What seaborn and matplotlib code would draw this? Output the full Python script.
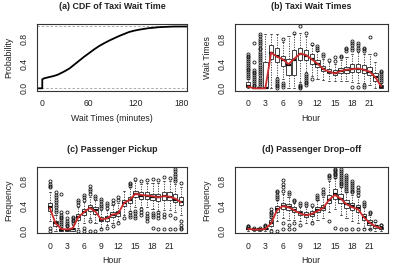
import matplotlib
matplotlib.use("Agg")
import matplotlib.pyplot as plt
import seaborn as sns
import numpy as np

sns.set_style("white")
plt.rcParams['font.family'] = ['Liberation Sans', 'DejaVu Sans']
plt.rcParams['font.size'] = 6.2

hours = list(range(24))

# (a) CDF of taxi wait time
cdf_minutes = [-7, 0, 0, 2, 5, 10, 15, 20, 28, 35, 41, 47, 54, 60, 67, 73, 80, 87, 93,
               100, 106, 112, 118, 125, 131, 137, 144, 150, 162, 170, 187]
cdf_prob = [0, 0, 0.145, 0.16, 0.17, 0.185, 0.2, 0.22, 0.27, 0.32, 0.38, 0.44, 0.51, 0.565, 0.63,
            0.68, 0.73, 0.775, 0.81, 0.85, 0.88, 0.91, 0.93, 0.948, 0.96, 0.972, 0.98, 0.988,
            0.995, 0.999, 1.0]

# (b) taxi wait times per hour
wait_q1 = [0.02, 0, 0, 0, 0.47, 0.42, 0.36, 0.22, 0.22, 0.46, 0.46, 0.40, 0.35, 0.28, 0.24, 0.21, 0.24, 0.25, 0.27, 0.26, 0.25, 0.22, 0.12, 0.0]
wait_med = [0.04, 0, 0, 0, 0.57, 0.52, 0.45, 0.37, 0.45, 0.56, 0.53, 0.47, 0.40, 0.31, 0.27, 0.24, 0.28, 0.29, 0.31, 0.31, 0.30, 0.27, 0.19, 0.02]
wait_q3 = [0.11, 0, 0, 0.43, 0.70, 0.65, 0.52, 0.48, 0.62, 0.65, 0.62, 0.56, 0.45, 0.36, 0.31, 0.29, 0.33, 0.35, 0.40, 0.39, 0.38, 0.35, 0.25, 0.05]
wait_lo = [0, 0, 0, 0, 0, 0.18, 0.15, 0, 0, 0.10, 0.27, 0.20, 0.15, 0.13, 0.12, 0.12, 0.12, 0.12, 0.10, 0.08, 0.08, 0.06, 0, 0]
wait_hi = [0.15, 0, 0, 0.88, 0.88, 0.88, 0.75, 0.85, 0.88, 0.90, 0.85, 0.70, 0.60, 0.48, 0.42, 0.40, 0.45, 0.50, 0.55, 0.58, 0.55, 0.55, 0.42, 0.08]
wait_mean = [0.03, 0, 0, 0, 0.58, 0.51, 0.47, 0.39, 0.48, 0.56, 0.54, 0.47, 0.40, 0.31, 0.27, 0.24, 0.28, 0.30, 0.31, 0.32, 0.30, 0.27, 0.18, 0.03]
wait_out = [
    [0.17, 0.2, 0.23, 0.26, 0.29, 0.32, 0.35, 0.38, 0.41, 0.44, 0.47, 0.5, 0.53, 0.55],
    [0.03, 0.06, 0.09, 0.12, 0.15, 0.18, 0.21, 0.24, 0.27, 0.3, 0.42, 0.73],
    [0.03, 0.07, 0.1, 0.14, 0.17, 0.21, 0.24, 0.28, 0.31, 0.35, 0.38, 0.42, 0.45, 0.49, 0.52,
     0.56, 0.59, 0.63, 0.66, 0.7, 0.73, 0.77, 0.8, 0.84, 0.88],
    [], [],
    [0.0, 0.03, 0.06, 0.09, 0.12, 0.15],
    [0.02, 0.05, 0.08, 0.8],
    [],
    [0.9],
    [0.0, 0.02, 0.04, 0.06, 1.0],
    [0.05, 0.08, 0.11, 0.14, 0.17, 0.2, 0.23, 0.9],
    [0.15, 0.72],
    [0.62, 0.65, 0.68],
    [0.52, 0.55],
    [0.45],
    [0.44, 0.5],
    [0.5, 0.53],
    [0.6, 0.63, 0.66],
    [0.02, 0.62, 0.66, 0.7, 0.74, 0.77],
    [0.02, 0.62, 0.66, 0.7, 0.74],
    [0.02, 0.05, 0.6, 0.63, 0.66],
    [0.83],
    [0.55],
    [0.11, 0.14, 0.17, 0.2, 0.23, 0.26, 0.28],
]

# (c) passenger pickup per hour
pick_q1 = [0.32, 0.08, 0.0, 0.0, 0.0, 0.18, 0.26, 0.32, 0.27, 0.15, 0.16, 0.22, 0.24, 0.40, 0.45, 0.54, 0.52, 0.52, 0.50, 0.48, 0.50, 0.50, 0.46, 0.42]
pick_med = [0.38, 0.12, 0.01, 0.01, 0.02, 0.22, 0.30, 0.37, 0.33, 0.18, 0.20, 0.26, 0.28, 0.45, 0.50, 0.60, 0.57, 0.57, 0.55, 0.54, 0.56, 0.55, 0.50, 0.47]
pick_q3 = [0.45, 0.16, 0.03, 0.03, 0.05, 0.27, 0.35, 0.42, 0.38, 0.23, 0.24, 0.30, 0.32, 0.50, 0.55, 0.65, 0.62, 0.62, 0.60, 0.60, 0.62, 0.62, 0.60, 0.55]
pick_lo = [0.15, 0.0, 0, 0, 0, 0.05, 0.13, 0.20, 0.12, 0.05, 0.10, 0.12, 0.15, 0.25, 0.32, 0.38, 0.38, 0.38, 0.35, 0.32, 0.33, 0.33, 0.30, 0.25]
pick_hi = [0.62, 0.25, 0.06, 0.06, 0.10, 0.38, 0.47, 0.55, 0.50, 0.33, 0.33, 0.42, 0.45, 0.65, 0.70, 0.80, 0.75, 0.78, 0.78, 0.78, 0.80, 0.80, 0.75, 0.70]
pick_mean = [0.37, 0.12, 0.03, 0.02, 0.04, 0.22, 0.30, 0.37, 0.31, 0.18, 0.20, 0.26, 0.28, 0.45, 0.50, 0.60, 0.58, 0.57, 0.56, 0.54, 0.56, 0.55, 0.52, 0.46]
pick_out = [
    [0.0, 0.05, 0.7, 0.73, 0.76, 0.8],
    [0.3, 0.34, 0.38, 0.42, 0.46, 0.5, 0.54, 0.58, 0.62],
    [0.08, 0.11, 0.14, 0.17, 0.2, 0.23, 0.26, 0.3, 0.6],
    [0.07, 0.1, 0.13, 0.16, 0.2, 0.3],
    [0.12, 0.15, 0.18, 0.21, 0.23],
    [0.0, 0.42, 0.46, 0.5],
    [0.0, 0.05, 0.5, 0.54, 0.58],
    [0.0, 0.15, 0.6, 0.64, 0.68, 0.72],
    [0.0, 0.53, 0.57],
    [0.02, 0.36, 0.4, 0.44, 0.48, 0.52],
    [0.05, 0.37, 0.41, 0.45],
    [0.08, 0.45, 0.5],
    [0.12, 0.5, 0.55],
    [0.2],
    [0.22, 0.26, 0.3, 0.72, 0.75, 0.78],
    [0.2, 0.24, 0.28, 0.32, 0.83],
    [0.25, 0.3, 0.35, 0.8],
    [0.15, 0.2, 0.24, 0.28, 0.82],
    [0.05, 0.22, 0.25, 0.28, 0.84],
    [0.02, 0.2, 0.25, 0.3, 0.82],
    [0.02, 0.23, 0.27, 0.87],
    [0.02, 0.25, 0.85],
    [0.02, 0.2, 0.8, 0.84, 0.88, 0.92, 0.96, 1.0],
    [0.02, 0.05, 0.1, 0.15, 0.78],
]

# (d) passenger drop-off per hour
drop_q1 = [0.02, 0.01, 0.01, 0.02, 0.08, 0.30, 0.35, 0.33, 0.30, 0.25, 0.22, 0.24, 0.30, 0.33, 0.45, 0.52, 0.45, 0.37, 0.33, 0.30, 0.18, 0.10, 0.05, 0.02]
drop_med = [0.03, 0.02, 0.02, 0.03, 0.12, 0.35, 0.40, 0.38, 0.34, 0.28, 0.25, 0.27, 0.33, 0.37, 0.50, 0.60, 0.52, 0.43, 0.40, 0.36, 0.22, 0.13, 0.07, 0.04]
drop_q3 = [0.05, 0.03, 0.03, 0.05, 0.17, 0.40, 0.45, 0.43, 0.38, 0.32, 0.30, 0.32, 0.38, 0.42, 0.58, 0.67, 0.60, 0.50, 0.45, 0.42, 0.27, 0.17, 0.10, 0.06]
drop_lo = [0, 0, 0, 0, 0.02, 0.15, 0.20, 0.18, 0.18, 0.15, 0.12, 0.15, 0.18, 0.20, 0.30, 0.35, 0.25, 0.20, 0.15, 0.12, 0.05, 0.02, 0, 0]
drop_hi = [0.06, 0.04, 0.04, 0.06, 0.20, 0.50, 0.60, 0.55, 0.45, 0.38, 0.38, 0.38, 0.50, 0.55, 0.80, 0.85, 0.70, 0.62, 0.58, 0.55, 0.38, 0.25, 0.14, 0.08]
drop_mean = [0.03, 0.02, 0.02, 0.03, 0.12, 0.33, 0.40, 0.38, 0.33, 0.28, 0.25, 0.27, 0.32, 0.37, 0.50, 0.58, 0.52, 0.43, 0.38, 0.35, 0.22, 0.13, 0.07, 0.04]
drop_out = [
    [0.06, 0.07, 0.08],
    [0.05],
    [0.05],
    [0.07, 0.08, 0.1],
    [0.0, 0.22, 0.25, 0.28, 0.31, 0.35],
    [0.0, 0.52, 0.55, 0.58, 0.62, 0.65],
    [0.02, 0.12, 0.65, 0.7, 0.76, 0.82],
    [0.02, 0.1, 0.6, 0.63],
    [0.03, 0.12, 0.48, 0.5],
    [0.1, 0.42, 0.45],
    [0.42, 0.45],
    [0.12, 0.42],
    [0.52, 0.55, 0.58],
    [0.6, 0.63, 0.67],
    [0.15, 0.85, 0.88, 0.9],
    [0.05, 0.87, 0.9, 0.92, 0.94, 0.96, 0.98, 1.0],
    [0.02, 0.72, 0.75, 0.78, 0.81, 0.84, 0.87, 0.9, 0.93, 0.96, 1.0],
    [0.02, 0.65, 0.68, 0.71, 0.74, 0.77, 0.8, 0.84, 0.87, 0.9],
    [0.02, 0.62, 0.65, 0.68, 0.71, 0.74, 0.77, 0.8],
    [0.02, 0.58, 0.62, 0.66, 0.7],
    [0.02, 0.4, 0.43, 0.47],
    [0.02, 0.28, 0.3],
    [0.16],
    [0.09, 0.1],
]

TXT = '#222222'
W, H = 394, 267
fig = plt.figure(figsize=(W / 100, H / 100), dpi=100)


def make_ax(l, t, r, b):
    return fig.add_axes([l / W, 1 - b / H, (r - l) / W, (b - t) / H])


def style(ax, title, xlabel, ylabel, wpx, hpx):
    for s in ax.spines.values():
        s.set_color('#333333')
        s.set_linewidth(0.8)
    ax.tick_params(direction='out', length=3, width=0.6, color='#333333',
                   labelcolor=TXT, pad=3, labelsize=6.2)
    ax.set_ylim(-0.04, 1.04)
    ax.set_yticks([0, 0.2, 0.4, 0.6, 0.8, 1.0])
    ax.set_yticklabels(['0.0', '', '0.4', '', '0.8', ''])
    for lab in ax.get_yticklabels():
        lab.set_rotation(90)
        lab.set_va('center')
    ax.set_xlabel(xlabel, color=TXT, fontsize=6.3, va='center')
    ax.set_ylabel(ylabel, color=TXT, fontsize=6.3, va='center')
    ax.xaxis.set_label_coords(0.5, -27.5 / hpx)
    ax.yaxis.set_label_coords(-27.7 / wpx, 0.5)
    ax.text(0.5, 1 + 17.5 / hpx, title, transform=ax.transAxes, ha='center',
            va='center', fontweight='bold', fontsize=6.4, color=TXT)
    ax.grid(False)


def box_panel(ax, q1, med, q3, lo, hi, out, mean):
    stats = [dict(q1=a, med=m, q3=b, whislo=l, whishi=h, fliers=f)
             for a, m, b, l, h, f in zip(q1, med, q3, lo, hi, out)]
    ax.bxp(stats, positions=hours, widths=0.75, capwidths=0.38, patch_artist=True,
           manage_ticks=False,
           boxprops=dict(facecolor='white', edgecolor='#222222', linewidth=0.6),
           medianprops=dict(color='#111111', linewidth=1.6),
           whiskerprops=dict(color='#333333', linewidth=0.6, linestyle=(0, (1.5, 1.5))),
           capprops=dict(color='#333333', linewidth=0.6),
           flierprops=dict(marker='o', markersize=2.2, markerfacecolor='none',
                           markeredgecolor='#1a1a1a', markeredgewidth=0.6))
    sns.lineplot(x=hours, y=mean, ax=ax, color='#cc2a2a', linewidth=1.3, zorder=5)
    ax.set_xlim(-2.3, 24.1)
    ax.set_xticks(hours)
    ax.set_xticklabels([str(h) if h % 3 == 0 else '' for h in hours])


# (a)
ax = make_ax(36.7, 24, 187.3, 90.8)
ax.axhline(0, color='#aaaaaa', lw=0.7, ls=(0, (2.5, 2)))
ax.axhline(1, color='#aaaaaa', lw=0.7, ls=(0, (2.5, 2)))
sns.lineplot(x=cdf_minutes, y=cdf_prob, ax=ax, color='black', linewidth=1.3,
             estimator=None, sort=False)
ax.set_xlim(-7.2, 187.3)
ax.set_xticks([0, 60, 120, 180])
style(ax, '(a) CDF of Taxi Wait Time', 'Wait Times (minutes)', 'Probability', 150.6, 66.8)

# (b)
ax = make_ax(234.7, 24, 387.5, 90.8)
box_panel(ax, wait_q1, wait_med, wait_q3, wait_lo, wait_hi, wait_out, wait_mean)
style(ax, '(b) Taxi Wait Times', 'Hour', 'Wait Times', 152.8, 66.8)

# (c)
ax = make_ax(36.7, 166.5, 187.3, 233.2)
box_panel(ax, pick_q1, pick_med, pick_q3, pick_lo, pick_hi, pick_out, pick_mean)
style(ax, '(c) Passenger Pickup', 'Hour', 'Frequency', 150.6, 66.7)

# (d)
ax = make_ax(234.7, 166.5, 387.5, 233.2)
box_panel(ax, drop_q1, drop_med, drop_q3, drop_lo, drop_hi, drop_out, drop_mean)
style(ax, '(d) Passenger Drop\u2212off', 'Hour', 'Frequency', 152.8, 66.7)

fig.savefig('out.png', dpi=100)
